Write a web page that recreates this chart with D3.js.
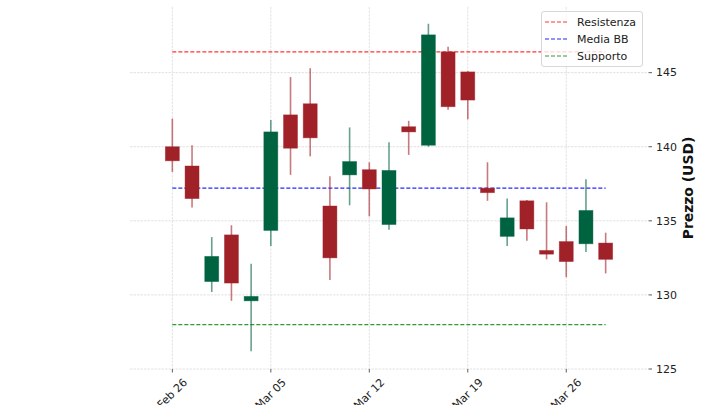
<!DOCTYPE html>
<html>
<head>
<meta charset="utf-8">
<script src="https://cdn.jsdelivr.net/npm/d3@7"></script>
<style>
  html, body { margin: 0; padding: 0; background: #fff; }
  svg { display: block; font-family: "DejaVu Sans", sans-serif; }
</style>
</head>
<body>
<svg id="chart" width="720" height="405"></svg>
<script>
const dates = ["2025-02-26","2025-02-27","2025-02-28","2025-03-03","2025-03-04","2025-03-05","2025-03-06","2025-03-07","2025-03-10","2025-03-11","2025-03-12","2025-03-13","2025-03-14","2025-03-17","2025-03-18","2025-03-19","2025-03-20","2025-03-21","2025-03-24","2025-03-25","2025-03-26","2025-03-27","2025-03-28"];
const opens  = [140.0, 138.7, 130.9, 134.05, 129.6, 134.35, 142.15, 142.9, 136.0, 138.1, 138.45, 134.75, 141.35, 140.1, 146.4, 145.05, 137.2, 133.95, 136.35, 133.0, 133.6, 133.45, 133.5];
const highs  = [141.9, 140.1, 133.9, 134.7, 132.1, 141.8, 144.7, 145.3, 138.0, 141.3, 138.95, 140.3, 141.75, 148.3, 146.75, 145.1, 138.95, 136.5, 136.4, 136.25, 134.65, 137.8, 134.2];
const lows   = [138.3, 135.9, 130.2, 129.6, 126.2, 133.3, 138.1, 139.35, 131.0, 136.05, 135.3, 134.4, 139.45, 140.0, 142.5, 141.85, 136.35, 133.3, 133.65, 132.4, 131.2, 132.9, 131.45];
const closes = [139.05, 136.5, 132.6, 130.8, 129.9, 141.0, 139.9, 140.6, 132.5, 139.0, 137.15, 138.4, 141.0, 147.55, 142.7, 143.15, 136.9, 135.2, 134.45, 132.75, 132.25, 135.7, 132.4];

const levelNames  = ["Resistenza", "Media BB", "Supporto"];
const levelValues = [146.4, 137.2, 128.0];
const levelColors = ["rgba(255,0,0,0.8)", "rgba(0,0,255,0.85)", "rgba(0,128,0,0.8)"];

const yTicks = [125, 130, 135, 140, 145];
const xTickIdx = [0, 5, 10, 15, 20];
const yLabel = "Prezzo (USD)";

const UP = "#006340", DOWN = "#A02128";

const svg = d3.select("#chart");
const L = 130, R = 648, T = 7, B = 369;

const x = d3.scaleLinear().domain([-2.15, 24.15]).range([L, R]);
const y = d3.scaleLinear().domain([125, 149.43]).range([B, T]);

const fmt = d3.timeFormat("%b %d");
const parse = d3.timeParse("%Y-%m-%d");

// grid
const g = svg.append("g");
g.selectAll(".hg").data(yTicks).join("line")
  .attr("x1", L).attr("x2", R)
  .attr("y1", d => y(d)).attr("y2", d => y(d))
  .attr("stroke", "#dadada").attr("stroke-width", 0.8).attr("stroke-dasharray", "2.5,1");
g.selectAll(".vg").data(xTickIdx).join("line")
  .attr("x1", d => x(d)).attr("x2", d => x(d))
  .attr("y1", T).attr("y2", B)
  .attr("stroke", "#dadada").attr("stroke-width", 0.8).attr("stroke-dasharray", "2.5,1");

// level lines
svg.selectAll(".lvl").data(levelValues).join("line")
  .attr("x1", x(0)).attr("x2", x(dates.length - 1))
  .attr("y1", d => y(d)).attr("y2", d => y(d))
  .attr("stroke", (d, i) => levelColors[i]).attr("stroke-width", 1.2)
  .attr("stroke-dasharray", "4,2");

// candles
const idx = d3.range(dates.length);
const bw = (x(1) - x(0)) * 0.71;
const cg = svg.append("g");
cg.selectAll(".wick").data(idx).join("line")
  .attr("x1", i => x(i)).attr("x2", i => x(i))
  .attr("y1", i => y(highs[i])).attr("y2", i => y(lows[i]))
  .attr("stroke", i => closes[i] >= opens[i] ? UP : DOWN)
  .attr("stroke-opacity", 0.6).attr("stroke-width", 1.6);
cg.selectAll(".body").data(idx).join("rect")
  .attr("x", i => x(i) - bw / 2)
  .attr("width", bw)
  .attr("y", i => y(Math.max(opens[i], closes[i])))
  .attr("height", i => Math.max(1, Math.abs(y(opens[i]) - y(closes[i]))))
  .attr("fill", i => closes[i] >= opens[i] ? UP : DOWN)
  .attr("stroke", i => closes[i] >= opens[i] ? UP : DOWN)
  .attr("stroke-opacity", 0.5).attr("stroke-width", 0.8);

// y axis (right)
const ya = svg.append("g");
yTicks.forEach(v => {
  ya.append("line").attr("x1", R + 0.5).attr("x2", R + 4).attr("y1", y(v)).attr("y2", y(v))
    .attr("stroke", "#333").attr("stroke-width", 0.8);
  ya.append("text").attr("x", R + 8).attr("y", y(v)).attr("dy", "0.35em")
    .attr("font-size", 11).attr("fill", "#222").text(v);
});
svg.append("text")
  .attr("transform", `translate(693,${(T + B) / 2}) rotate(-90)`)
  .attr("text-anchor", "middle")
  .attr("font-size", 13.9).attr("font-weight", "bold").attr("fill", "#111")
  .text(yLabel);

// x axis
const xa = svg.append("g");
xTickIdx.forEach(i => {
  const xp = x(i);
  xa.append("line").attr("x1", xp).attr("x2", xp).attr("y1", B).attr("y2", B + 3.5)
    .attr("stroke", "#333").attr("stroke-width", 0.8);
  const t = xa.append("text")
    .attr("font-size", 11).attr("fill", "#222")
    .attr("text-anchor", "middle").attr("dominant-baseline", "central")
    .text(fmt(parse(dates[i])));
  const w = t.node().getComputedTextLength();
  const h = 12.8;
  const bb = (w + h) * Math.SQRT1_2;
  const top = B + 7;
  t.attr("transform", `translate(${xp},${top + bb / 2}) rotate(-45)`);
});

// legend
const lg = svg.append("g");
lg.append("rect").attr("x", 541.5).attr("y", 11.5).attr("width", 101).attr("height", 55)
  .attr("rx", 2.5).attr("fill", "rgba(255,255,255,0.8)").attr("stroke", "#d8d8d8").attr("stroke-width", 1);
levelNames.forEach((n, i) => {
  const yy = 22 + i * 17;
  lg.append("line").attr("x1", 545).attr("x2", 567).attr("y1", yy).attr("y2", yy)
    .attr("stroke", levelColors[i]).attr("stroke-width", 1.2).attr("stroke-dasharray", "4,2");
  lg.append("text").attr("x", 577).attr("y", yy).attr("dy", "0.35em")
    .attr("font-size", 11).attr("fill", "#222").text(n);
});
</script>
</body>
</html>
